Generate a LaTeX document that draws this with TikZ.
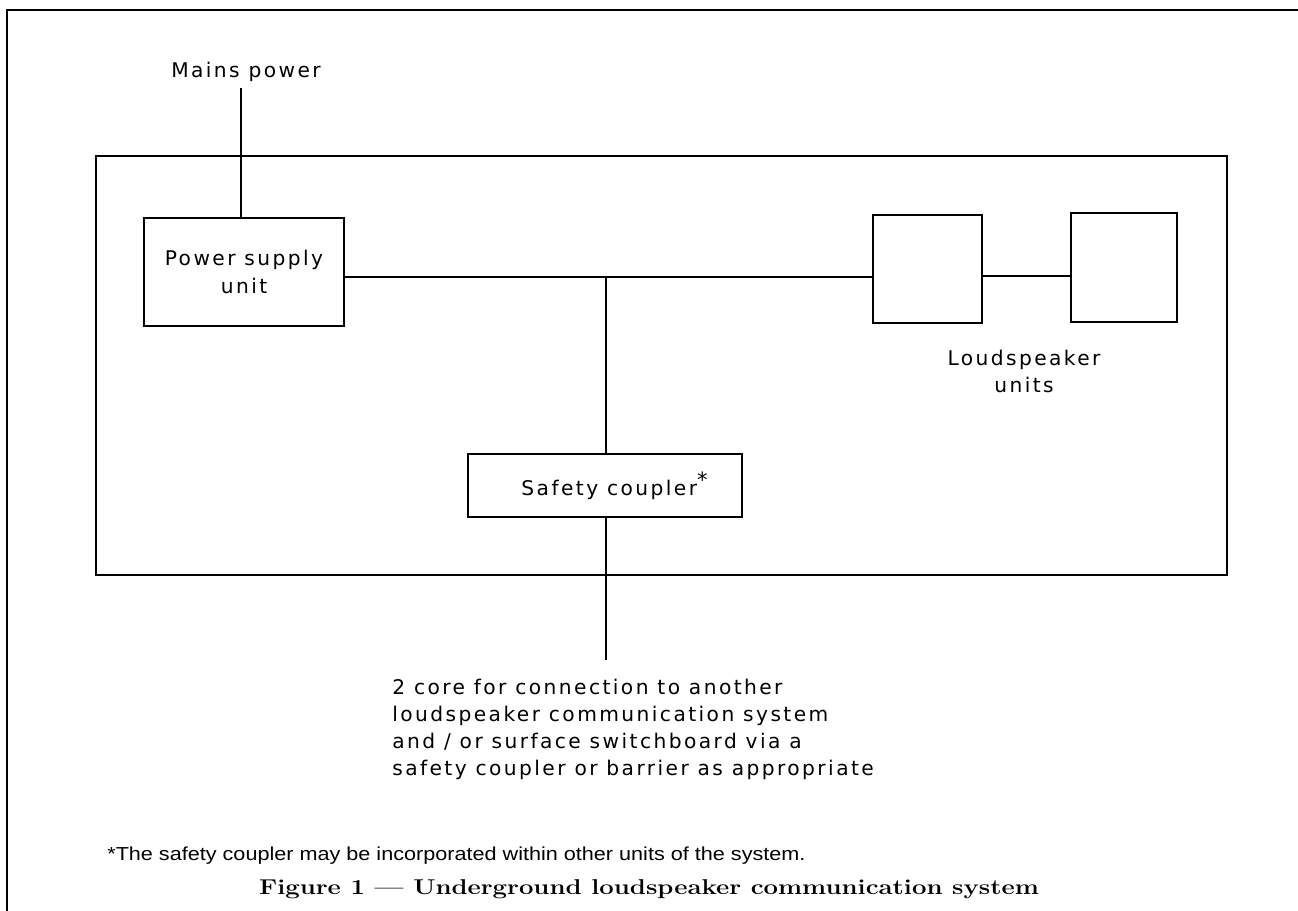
\documentclass[tikz,border=0pt]{standalone}
\usepackage{fontspec}
\newfontfamily\isofont[LetterSpace=12]{DejaVu Sans}
\newfontfamily\notefont[FakeStretch=1.15]{Liberation Sans}
\newfontfamily\capfont[FakeStretch=1.2]{Latin Modern Roman}

\begin{document}
\begin{tikzpicture}[
  x=0.02cm, y=-0.02cm,
  frame/.style={line width=1.6pt},
  sysbox/.style={rectangle, draw, line width=1.3pt, minimum width=22.62cm, minimum height=8.38cm},
  unitbox/.style={rectangle, draw, line width=1.2pt, inner sep=0pt, align=center, font=\isofont\fontsize{11.5}{15.4}\selectfont},
  lbl/.style={inner sep=0pt, align=center, font=\isofont\fontsize{11.5}{15.4}\selectfont},
  wire/.style={line width=1.2pt}
]
  \useasboundingbox (0,0) rectangle (1298,911);
  \draw[frame] (7,911) -- (7,10) -- (1298,10);

  \node[sysbox] (system) at (661.5,365.5) {};

  \node[lbl] (mains) at (246,72) {Mains power};
  \node[unitbox, minimum width=4cm, minimum height=2.16cm] (psu) at (244,272) {Power supply\\unit};
  \node[unitbox, minimum width=2.18cm, minimum height=2.16cm] (spk1) at (927.5,269) {};
  \node[unitbox, minimum width=2.12cm, minimum height=2.18cm] (spk2) at (1124,267.5) {};
  \node[lbl] (spklbl) at (1024,371) {Loudspeaker\\units};
  \node[unitbox, minimum width=5.48cm, minimum height=1.26cm] (coupler) at (605,485.5) {\hspace*{0.4cm}Safety coupler\textsuperscript{\large *}};

  \coordinate (bus) at (606,277);
  \coordinate (link) at (1026,276);
  \coordinate (ext) at (606,660);

  \draw[wire] (mains.south -| 241,0) ++(0,6) -- (psu.north -| 241,0);
  \draw[wire] (psu.east |- bus) -- (bus) -- (spk1.west |- bus);
  \draw[wire] (spk1.east |- link) -- (spk2.west |- link);
  \draw[wire] (bus) -- (coupler.north -| bus);
  \draw[wire] (coupler.south -| bus) -- (ext);

  \node[lbl, anchor=north west, align=left] (linktext) at (392,679) {2 core for connection to another\\loudspeaker communication system\\and / or surface switchboard via a\\safety coupler or barrier as appropriate};

  \node[anchor=west, inner sep=0pt, font=\notefont\fontsize{10.7}{12}\selectfont] (note) at (107,856) {*The safety coupler may be incorporated within other units of the system.};
  \node[inner sep=0pt, font=\capfont\bfseries\fontsize{12.2}{14}\selectfont] (caption) at (649,889) {Figure 1 — Underground loudspeaker communication system};
\end{tikzpicture}
\end{document}
